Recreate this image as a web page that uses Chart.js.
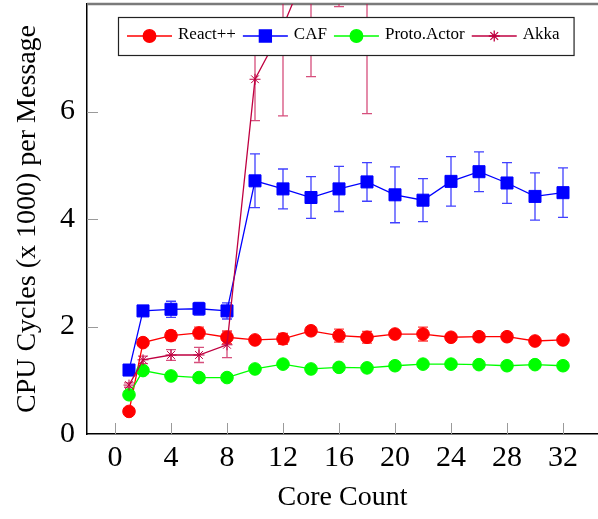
<!DOCTYPE html>
<html>
<head>
<meta charset="utf-8">
<script src="https://cdn.jsdelivr.net/npm/chart.js@4.4.1/dist/chart.umd.min.js"></script>
<style>
  html, body { margin: 0; padding: 0; background: #fff; }
</style>
</head>
<body>
<canvas id="chart" width="598" height="519"></canvas>
<script>
// CPU cycles per message vs core count
const FONT = '"Liberation Serif", "Times New Roman", serif';

const coreCounts = [1, 2, 4, 6, 8, 10, 12, 14, 16, 18, 20, 22, 24, 26, 28, 30, 32];
const xTicks = [0, 4, 8, 12, 16, 20, 24, 28, 32];
const yTicks = [0, 2, 4, 6];

const reactVals = [0.42, 1.70, 1.83, 1.88, 1.80, 1.75, 1.77, 1.92, 1.83, 1.80, 1.86, 1.86, 1.80, 1.81, 1.81, 1.73, 1.75];
const reactErr = [0.03, 0.05, 0.09, 0.11, 0.12, 0.05, 0.1, 0.05, 0.12, 0.11, 0.05, 0.13, 0.06, 0.05, 0.06, 0.05, 0.05];

const cafVals = [1.19, 2.29, 2.32, 2.33, 2.29, 4.71, 4.56, 4.40, 4.56, 4.69, 4.45, 4.35, 4.70, 4.88, 4.67, 4.42, 4.49];
const cafErr = [0.05, 0.08, 0.15, 0.12, 0.15, 0.5, 0.37, 0.39, 0.42, 0.36, 0.52, 0.40, 0.46, 0.37, 0.38, 0.44, 0.46];

const protoVals = [0.73, 1.18, 1.08, 1.05, 1.05, 1.21, 1.30, 1.21, 1.24, 1.23, 1.27, 1.30, 1.30, 1.29, 1.27, 1.29, 1.27];
const protoErr = [0.04, 0.05, 0.04, 0.04, 0.04, 0.05, 0.05, 0.04, 0.05, 0.04, 0.04, 0.05, 0.04, 0.04, 0.04, 0.04, 0.04];

const akkaVals = [0.91, 1.38, 1.47, 1.47, 1.66, 6.6, 7.58, 8.84, 10.5, 9.6, 11.5, 11.9, 12.4, 12.1, 12.9, 12.6, 13.2];
const akkaErr = [0.04, 0.07, 0.1, 0.14, 0.24, 0.77, 1.66, 2.19, 2.55, 3.64, 2.0, 2.2, 2.4, 2.1, 2.5, 2.3, 2.6];

const pts = (vals) => coreCounts.map((c, i) => ({ x: c, y: vals[i] }));

function series(label, color, errColor, vals, errs, style, radius, order) {
  return {
    label,
    data: pts(vals),
    errors: errs,
    errorColor: errColor,
    borderColor: color,
    backgroundColor: color,
    pointBackgroundColor: color,
    pointBorderColor: color,
    pointStyle: style,
    pointRadius: radius,
    pointBorderWidth: 1,
    borderWidth: 1.3,
    tension: 0,
    order,
  };
}

// vertical error bars with caps, drawn under the markers
const errorBars = {
  id: "errorBars",
  beforeDatasetsDraw(chart) {
    const { ctx, chartArea: a, scales: { x, y } } = chart;
    ctx.save();
    ctx.beginPath();
    ctx.rect(a.left, a.top, a.right - a.left, a.bottom - a.top);
    ctx.clip();
    chart.data.datasets.forEach((ds) => {
      ctx.strokeStyle = ds.errorColor;
      ctx.lineWidth = 1.3;
      ds.data.forEach((p, i) => {
        const px = x.getPixelForValue(p.x);
        const top = y.getPixelForValue(p.y + ds.errors[i]);
        const bot = y.getPixelForValue(p.y - ds.errors[i]);
        ctx.beginPath();
        ctx.moveTo(px, top); ctx.lineTo(px, bot);
        ctx.moveTo(px - 5, top); ctx.lineTo(px + 5, top);
        ctx.moveTo(px - 5, bot); ctx.lineTo(px + 5, bot);
        ctx.stroke();
      });
    });
    ctx.restore();
  },
};

// pgfplots-style inward ticks + grey top rule
const frame = {
  id: "frame",
  beforeDatasetsDraw(chart) {
    const { ctx, chartArea: a, scales: { x, y } } = chart;
    ctx.save();
    ctx.strokeStyle = "#9a9a9a";
    ctx.lineWidth = 1;
    ctx.beginPath();
    x.ticks.forEach((t) => {
      const px = Math.round(x.getPixelForValue(t.value)) + 0.5;
      ctx.moveTo(px, a.bottom); ctx.lineTo(px, a.bottom - 11);
    });
    y.ticks.forEach((t) => {
      if (t.value === 0) return;
      const py = Math.round(y.getPixelForValue(t.value)) + 0.5;
      ctx.moveTo(a.left, py); ctx.lineTo(a.left + 11, py);
    });
    ctx.stroke();
    ctx.strokeStyle = "#7a7a7a";
    ctx.lineWidth = 2.4;
    ctx.beginPath();
    ctx.moveTo(a.left, a.top); ctx.lineTo(a.right, a.top);
    ctx.stroke();
    ctx.restore();
  },
};

// boxed legend inside the plot, on top of the data
const boxLegend = {
  id: "boxLegend",
  afterDatasetsDraw(chart) {
    const { ctx, chartArea: a } = chart;
    const font = "17px " + FONT;
    ctx.save();
    ctx.font = font;
    const items = chart.data.datasets;
    const lineLen = 45, gapA = 6, gapB = 7;
    let w = 9;
    items.forEach((ds, i) => {
      w += lineLen + gapA + ctx.measureText(ds.label).width + (i < items.length - 1 ? gapB : 14);
    });
    const left = a.left + 31, top = a.top + 13, h = 38;
    ctx.fillStyle = "#fff";
    ctx.fillRect(left, top, w, h);
    ctx.strokeStyle = "#222";
    ctx.lineWidth = 1.2;
    ctx.strokeRect(left + 0.5, top + 0.5, w, h);
    const cy = top + h / 2;
    let cx = left + 9;
    items.forEach((ds) => {
      ctx.strokeStyle = ds.borderColor;
      ctx.lineWidth = 1.3;
      ctx.beginPath();
      ctx.moveTo(cx, cy); ctx.lineTo(cx + lineLen, cy);
      ctx.stroke();
      ctx.fillStyle = ds.backgroundColor;
      Chart.helpers.drawPoint(ctx, { pointStyle: ds.pointStyle, radius: ds.pointRadius, rotation: 0, borderWidth: 1 }, cx + lineLen / 2, cy);
      cx += lineLen + gapA;
      ctx.fillStyle = "#000";
      ctx.textBaseline = "middle";
      ctx.textAlign = "left";
      ctx.fillText(ds.label, cx, cy - 1);
      cx += ctx.measureText(ds.label).width + gapB;
    });
    ctx.restore();
  },
};

new Chart(document.getElementById("chart"), {
  type: "line",
  data: {
    datasets: [
      series("React++", "#ff0000", "rgba(255,0,0,0.75)", reactVals, reactErr, "circle", 6.3, 3),
      series("CAF", "#0000ff", "rgba(0,0,255,0.75)", cafVals, cafErr, "rect", 8.5, 2),
      series("Proto.Actor", "#00ff00", "rgba(0,230,0,0.75)", protoVals, protoErr, "circle", 6.3, 1),
      series("Akka", "#bf0040", "rgba(200,20,80,0.75)", akkaVals, akkaErr, "star", 5.5, 0),
    ],
  },
  options: {
    responsive: false,
    animation: false,
    layout: { autoPadding: false, padding: { top: 4, right: 0, bottom: 0, left: 0 } },
    plugins: {
      legend: { display: false },
      tooltip: { enabled: false },
    },
    scales: {
      x: {
        type: "linear",
        min: -2,
        max: 34.5,
        afterBuildTicks: (s) => { s.ticks = xTicks.map((v) => ({ value: v })); },
        afterFit: (s) => { s.height = 85; s.paddingLeft = 0; s.paddingRight = 0; },
        grid: { display: false, drawTicks: false },
        border: { color: "#000", width: 1.5 },
        ticks: { color: "#000", font: { family: FONT, size: 30 }, padding: 6, maxRotation: 0, autoSkip: false },
        title: { display: true, text: "Core Count", color: "#000", font: { family: FONT, size: 28 }, padding: { top: 0, bottom: 5 } },
      },
      y: {
        type: "linear",
        min: 0,
        max: 8,
        afterBuildTicks: (s) => { s.ticks = yTicks.map((v) => ({ value: v })); },
        afterFit: (s) => { s.width = 87; s.paddingTop = 0; s.paddingBottom = 0; },
        grid: { display: false, drawTicks: false },
        border: { color: "#000", width: 1.5 },
        ticks: { color: "#000", font: { family: FONT, size: 30 }, padding: 12 },
        title: { display: true, text: "CPU Cycles (x 1000) per Message", color: "#000", font: { family: FONT, size: 28 }, padding: { top: 11, bottom: 0 } },
      },
    },
  },
  plugins: [frame, errorBars, boxLegend],
});
</script>
</body>
</html>
